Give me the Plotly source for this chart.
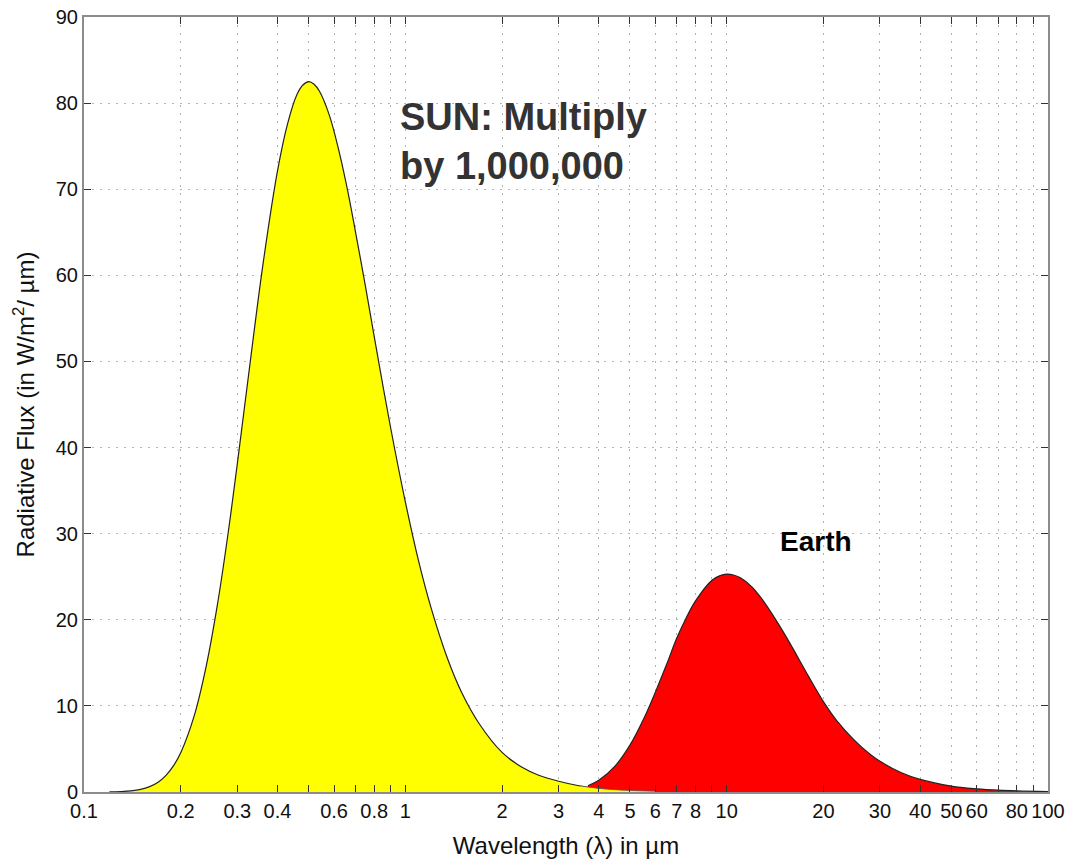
import plotly.graph_objects as go

# Solar emission spectrum (flux in millions of W/m^2/µm)
sun_wavelength = [0.12, 0.13, 0.14, 0.15, 0.16, 0.17, 0.18, 0.19, 0.20, 0.22,
                  0.24, 0.26, 0.28, 0.30, 0.33, 0.36, 0.40, 0.43, 0.46, 0.48,
                  0.50, 0.52, 0.54, 0.58, 0.62, 0.66, 0.70, 0.75, 0.80, 0.90,
                  1.00, 1.10, 1.20, 1.35, 1.50, 1.70, 2.00, 2.30, 2.60, 3.00,
                  3.50, 4.00, 4.50, 5.00, 6.00]
sun_flux = [0.01, 0.05, 0.13, 0.30, 0.62, 1.14, 1.94, 3.06, 4.56, 8.78,
            14.6, 21.7, 29.7, 38.1, 50.3, 61.1, 72.1, 77.6, 81.0, 82.1,
            82.5, 82.2, 81.4, 78.6, 74.6, 70.0, 65.0, 58.9, 52.9, 42.3,
            33.7, 26.8, 21.5, 15.6, 11.5, 7.9, 4.6, 2.9, 1.95, 1.25,
            0.70, 0.42, 0.27, 0.18, 0.09]

# Terrestrial emission spectrum (W/m^2/µm)
earth_wavelength = [3.7, 4.0, 4.5, 5.0, 5.5, 6.0, 6.5, 7.0, 7.5, 8.0,
                    9.0, 9.5, 10.0, 10.5, 11.0, 12.0, 13.0, 14.0, 15.0, 16.0,
                    18.0, 20.0, 22.0, 25.0, 28.0, 30.0, 35.0, 40.0, 50.0, 60.0,
                    70.0, 80.0, 100.0]
earth_flux = [0.73, 1.37, 3.04, 5.44, 8.38, 11.6, 14.8, 17.9, 20.3, 22.2,
              24.6, 25.1, 25.3, 25.2, 24.9, 23.8, 22.2, 20.4, 18.6, 16.8,
              13.4, 10.5, 8.3, 6.0, 4.35, 3.56, 2.23, 1.46, 0.69, 0.37,
              0.21, 0.13, 0.06]

# Logarithmic wavelength ticks: labelled ones, then the unlabelled ones
x_tick_values = [0.1, 0.2, 0.3, 0.4, 0.6, 0.8, 1, 2, 3, 4, 5, 6, 7, 8,
                 10, 20, 30, 40, 50, 60, 80, 100]
x_tick_labels = ["0.1", "0.2", "0.3", "0.4", "0.6", "0.8", "1", "2", "3",
                 "4", "5", "6", "7", "8", "10", "20", "30", "40", "50",
                 "60", "80", "100"]
x_minor_values = [0.5, 0.7, 0.9, 9, 70, 90]
y_tick_values = [0, 10, 20, 30, 40, 50, 60, 70, 80, 90]

EDGE = "#222222"
FONT = "Liberation Sans, Arial, Helvetica, sans-serif"
CURVE = dict(shape="spline", smoothing=1.0)

fig = go.Figure()

# Sun: yellow area under the curve
fig.add_trace(go.Scatter(
    x=sun_wavelength, y=sun_flux, mode="lines",
    line=dict(color=EDGE, width=1.2, **CURVE),
    fill="tozeroy", fillcolor="#FFFF00", hoverinfo="skip", showlegend=False,
))

# Earth: red area under the curve
fig.add_trace(go.Scatter(
    x=earth_wavelength, y=earth_flux, mode="lines",
    line=dict(color=EDGE, width=1.2, **CURVE),
    fill="tozeroy", fillcolor="#FF0000", hoverinfo="skip", showlegend=False,
))

# Solar tail kept visible beneath the Earth curve
tail = [i for i, w in enumerate(sun_wavelength) if w >= 3.5]
fig.add_trace(go.Scatter(
    x=[sun_wavelength[i] for i in tail], y=[sun_flux[i] for i in tail],
    mode="lines",
    line=dict(color="#555555", width=0.8, **CURVE),
    fill="tozeroy", fillcolor="#FFFF00", hoverinfo="skip", showlegend=False,
))

GRID = dict(showgrid=True, gridcolor="#b4b4b4", gridwidth=1, griddash="2px,6px")
axis_common = dict(
    showline=True, linecolor="#8c8c8c", linewidth=2, mirror="ticks",
    ticks="inside", ticklen=7, tickwidth=1, tickcolor="#333333",
    zeroline=False,
    tickfont=dict(family=FONT, size=20, color="#111111"),
    **GRID,
)

fig.update_xaxes(
    type="log", range=[-1, 2],
    tickmode="array", tickvals=x_tick_values, ticktext=x_tick_labels,
    minor=dict(tickmode="array", tickvals=x_minor_values, ticks="inside",
               ticklen=7, tickwidth=1, tickcolor="#333333", **GRID),
    title=dict(text="Wavelength (λ) in µm",
               font=dict(family=FONT, size=24, color="#111111"), standoff=16),
    **axis_common,
)
fig.update_yaxes(
    range=[0, 90], tickmode="array", tickvals=y_tick_values,
    title=dict(text="Radiative Flux (in W/m<sup>2</sup>/ µm)",
               font=dict(family=FONT, size=24, color="#111111"), standoff=14),
    **axis_common,
)

fig.add_annotation(
    xref="paper", yref="paper", x=0.3257, y=0.840,
    xanchor="left", yanchor="middle", align="left", showarrow=False,
    text="<b>SUN: Multiply<br>by 1,000,000</b>",
    font=dict(family=FONT, size=38, color="#333333"),
)
fig.add_annotation(
    xref="paper", yref="paper", x=0.7593, y=0.3226,
    xanchor="center", yanchor="middle", showarrow=False,
    text="<b>Earth</b>",
    font=dict(family=FONT, size=28, color="#000000"),
)

fig.update_layout(
    width=1069, height=862,
    margin=dict(l=84, r=21, t=17, b=70, autoexpand=False),
    paper_bgcolor="white", plot_bgcolor="white",
)

fig.write_html("out.html")
